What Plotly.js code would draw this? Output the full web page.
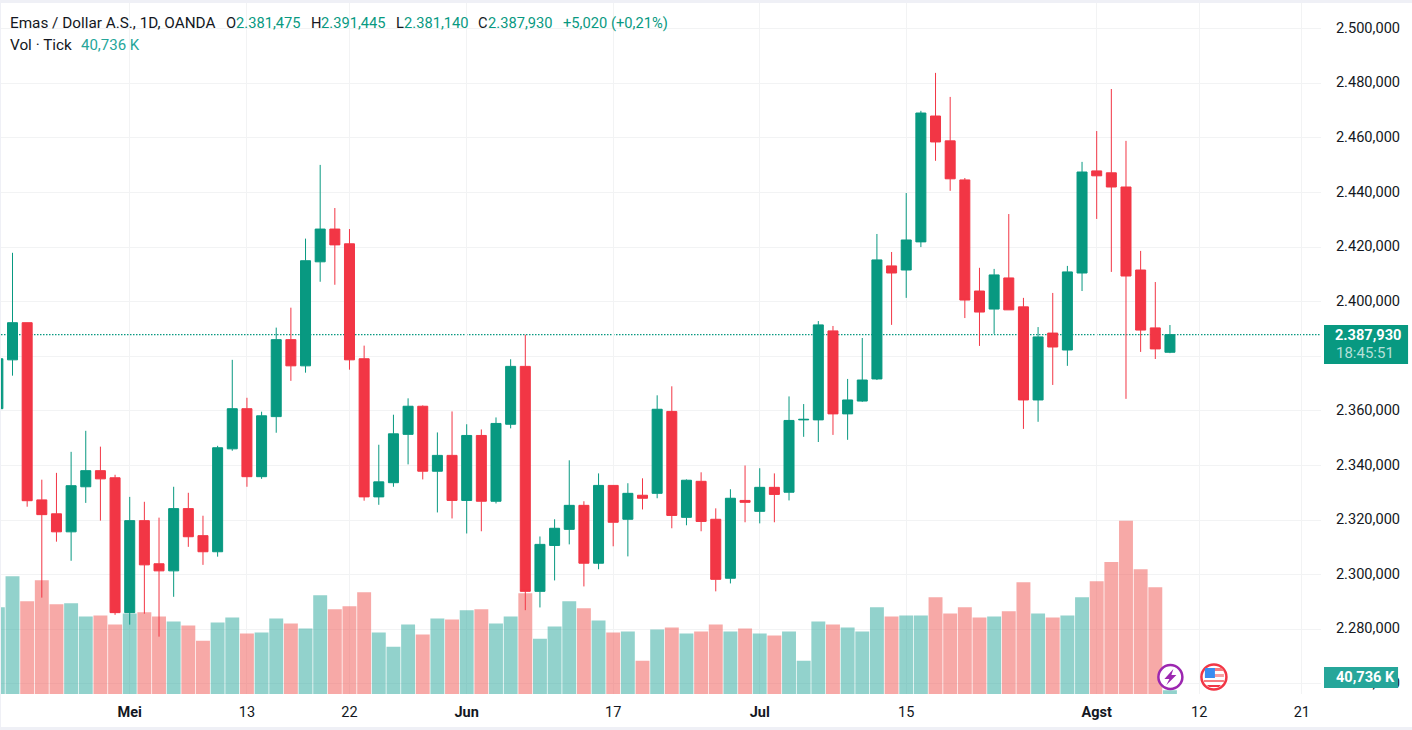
<!DOCTYPE html>
<html>
<head>
<meta charset="utf-8">
<script src="https://cdn.plot.ly/plotly-3.0.1.min.js"></script>
<style>
  html, body { margin: 0; padding: 0; background: #eff0f6; overflow: hidden; }
  #chart { position: absolute; left: 1px; top: 3px; width: 1411px; height: 724px; }
</style>
</head>
<body>
<div id="chart"></div>
<script>
// XAU/USD daily candles with tick volume, Apr - Aug 2024
const sessions = [
  '2024-04-18','2024-04-19','2024-04-22','2024-04-23','2024-04-24','2024-04-25','2024-04-26','2024-04-29','2024-04-30',
  '2024-05-01','2024-05-02','2024-05-03','2024-05-06','2024-05-07','2024-05-08','2024-05-09','2024-05-10','2024-05-13',
  '2024-05-14','2024-05-15','2024-05-16','2024-05-17','2024-05-20','2024-05-21','2024-05-22','2024-05-23','2024-05-24',
  '2024-05-27','2024-05-28','2024-05-29','2024-05-30','2024-05-31','2024-06-03','2024-06-04','2024-06-05','2024-06-06',
  '2024-06-07','2024-06-10','2024-06-11','2024-06-12','2024-06-13','2024-06-14','2024-06-17','2024-06-18','2024-06-19',
  '2024-06-20','2024-06-21','2024-06-24','2024-06-25','2024-06-26','2024-06-27','2024-06-28','2024-07-01','2024-07-02',
  '2024-07-03','2024-07-04','2024-07-05','2024-07-08','2024-07-09','2024-07-10','2024-07-11','2024-07-12','2024-07-15',
  '2024-07-16','2024-07-17','2024-07-18','2024-07-19','2024-07-22','2024-07-23','2024-07-24','2024-07-25','2024-07-26',
  '2024-07-29','2024-07-30','2024-07-31','2024-08-01','2024-08-02','2024-08-05','2024-08-06','2024-08-07','2024-08-08',
  '2024-08-09','2024-08-12','2024-08-13','2024-08-14','2024-08-15','2024-08-16','2024-08-19','2024-08-20','2024-08-21',
  '2024-08-22','2024-08-23'
];
const candleDates = sessions.slice(0, 81);

const opens = [
  2360.8,2378.7,2392.3,2327.4,2322.3,2315.7,2332.2,2338.1,2335.5,2286.1,2319.8,2304.0,2301.4,2324.2,2314.3,2308.4,2346.1,
  2360.8,2335.9,2357.9,2386.1,2376.5,2414.6,2426.6,2421.2,2379.1,2328.5,2333.7,2351.4,2361.7,2337.9,2343.7,2327.2,2351.0,
  2326.9,2355.1,2376.3,2293.9,2310.7,2316.6,2325.4,2304.2,2332.7,2320.3,2329.1,2329.8,2359.8,2321.0,2334.2,2320.3,2298.7,
  2327.2,2323.2,2332.0,2330.2,2356.7,2356.7,2389.3,2358.9,2363.6,2371.7,2413.1,2411.6,2421.9,2468.0,2458.9,2444.6,2403.9,
  2397.3,2408.7,2398.1,2364.0,2388.5,2382.3,2410.5,2447.9,2447.2,2442.0,2411.6,2390.4,2381.475
];
const highs = [
  2381.0,2417.9,2392.3,2334.8,2337.3,2345.0,2352.7,2346.9,2336.6,2328.5,2326.7,2320.9,2332.2,2330.0,2321.6,2347.2,2378.7,
  2364.8,2359.7,2390.5,2397.8,2423.1,2450.1,2434.3,2426.6,2383.9,2347.6,2358.6,2364.6,2362.0,2352.1,2359.8,2355.1,2353.2,
  2357.6,2378.9,2387.9,2314.0,2320.3,2341.9,2326.9,2337.1,2332.7,2333.5,2335.3,2365.7,2369.0,2334.9,2337.5,2324.3,2331.3,
  2340.0,2339.0,2337.1,2365.3,2362.5,2392.9,2391.1,2371.7,2386.7,2424.8,2418.2,2439.8,2469.9,2483.8,2475.0,2445.3,2412.4,
  2412.0,2432.1,2401.4,2390.7,2403.2,2413.1,2451.2,2462.5,2477.9,2458.9,2418.6,2407.2,2391.445
];
const lows = [
  2358.0,2372.9,2324.9,2291.6,2312.1,2305.1,2326.3,2319.8,2285.3,2281.7,2285.7,2277.3,2291.9,2310.2,2303.6,2306.6,2345.4,
  2332.2,2335.1,2352.0,2371.0,2374.0,2407.3,2406.2,2375.1,2327.1,2325.6,2332.2,2340.4,2334.9,2322.8,2320.6,2315.1,2315.9,
  2326.1,2353.6,2287.0,2288.0,2297.9,2311.1,2295.7,2302.0,2310.4,2306.7,2323.9,2328.0,2317.0,2318.1,2315.9,2293.9,2296.8,
  2319.2,2318.8,2319.2,2327.2,2350.5,2348.6,2351.2,2349.4,2363.3,2371.3,2391.5,2401.4,2420.0,2451.6,2440.6,2394.0,2383.8,
  2388.2,2397.0,2353.4,2356.0,2369.5,2376.5,2403.9,2430.3,2410.9,2364.4,2381.6,2379.0,2381.14
];
const closes = [
  2379.1,2392.3,2327.1,2322.0,2315.7,2332.6,2338.1,2335.1,2286.1,2319.8,2303.6,2301.4,2324.2,2313.9,2308.4,2346.5,2360.8,
  2335.9,2358.2,2386.1,2376.5,2415.0,2426.6,2420.8,2378.7,2328.5,2334.0,2351.6,2361.7,2337.9,2343.7,2327.2,2351.0,2326.9,
  2355.4,2376.3,2293.9,2311.1,2317.0,2325.4,2304.2,2332.7,2319.2,2329.8,2328.0,2360.6,2321.7,2334.6,2319.5,2298.3,2328.0,
  2326.5,2332.0,2329.4,2356.5,2356.9,2391.5,2358.9,2364.0,2371.3,2415.3,2410.5,2422.6,2469.1,2458.5,2445.0,2400.6,2396.2,
  2409.8,2397.0,2364.0,2387.1,2383.4,2410.9,2447.5,2446.1,2442.0,2409.4,2389.6,2382.7,2387.93
];
// tick volume in K, bars sit on a cut off scale like the source chart
const volumes = [
  123.4,154.5,129.4,150.5,126.4,127.4,114.3,115.3,106.3,117.3,118.4,114.3,109.3,105.3,90.2,108.3,113.3,97.3,98.3,112.3,107.3,
  102.3,135.4,121.4,124.4,138.4,98.3,84.2,106.3,96.3,112.3,111.3,120.4,121.4,107.3,114.3,137.4,92.2,104.3,129.4,122.4,110.3,
  98.3,99.3,70.1,101.3,103.3,97.3,99.3,106.3,99.3,102.3,97.3,95.3,99.3,70.1,109.3,106.3,103.3,99.3,123.4,114.3,115.3,115.3,
  133.4,117.3,123.4,113.3,114.3,119.4,148.5,117.3,113.3,115.3,133.4,149.5,168.6,209.7,161.5,143.5,40.736
];

const xTickDates = ['2024-05-01','2024-05-13','2024-05-22','2024-06-03','2024-06-17','2024-07-01','2024-07-15','2024-08-01','2024-08-12','2024-08-21'];
const xTickLabels = ['<b>Mei</b>','13','22','<b>Jun</b>','17','<b>Jul</b>','15','<b>Agst</b>','12','21'];
const priceTicks = [2260,2280,2300,2320,2340,2360,2380,2400,2420,2440,2460,2480,2500];

const GREEN = '#089981';
const RED = '#f23645';
const TEAL = '#26a69a';
const INK = '#131722';
const FONT = 'Roboto, sans-serif';

// page pixels to paper fractions, the plot runs from 1..1320 and 3..694 on the page
const paperX = (px) => (px - 1) / 1319;
const paperY = (py) => 1 - (py - 3) / 691;

// annotations carry a couple of px of padding, so pull the anchor back
function label(text, px, py, color, size) {
    return {
        text: text, xref: 'paper', yref: 'paper', x: paperX(px - 2), y: paperY(py),
        xanchor: 'left', yanchor: 'middle', showarrow: false,
        font: { family: FONT, size: size || 14.7, color: color }
    };
}

const headerLabels = [
    label('Emas / Dollar A.S., 1D, OANDA', 10, 23, INK, 15.3),
    label('O', 226, 23, INK), label('2.381,475', 236, 23, GREEN),
    label('H', 311, 23, INK), label('2.391,445', 321, 23, GREEN),
    label('L', 396, 23, INK), label('2.381,140', 404, 23, GREEN),
    label('C', 478, 23, INK), label('2.387,930', 488, 23, GREEN),
    label('+5,020 (+0,21%)', 563, 23, GREEN),
    label('Vol · Tick', 10, 45, INK, 15.3),
    label('40,736 K', 81, 45, TEAL, 15)
];

const badgeLabels = [
    label('<b>2.387,930</b>', 1334, 335, '#ffffff', 14.6),
    label('18:45:51', 1335, 353, '#b5e0d9', 15),
    label('<b>40,736 K</b>', 1335, 677, '#ffffff', 14.6)
];

function badge(px0, py0, px1, py1, color) {
    return {
        type: 'rect', xref: 'paper', yref: 'paper',
        x0: paperX(px0), x1: paperX(px1), y0: paperY(py0), y1: paperY(py1),
        fillcolor: color, line: { width: 0 }
    };
}

// little event markers at the bottom of the pane, pixel sized around an anchor, y up
function icon(path, cx, cy, fill) {
    return {
        type: 'path', path: path, xref: 'paper', yref: 'paper',
        xsizemode: 'pixel', ysizemode: 'pixel', xanchor: paperX(cx), yanchor: paperY(cy),
        fillcolor: fill, line: { width: 0 }
    };
}
function ring(cx, cy, radius, stroke, width) {
    return {
        type: 'circle', xref: 'paper', yref: 'paper',
        xsizemode: 'pixel', ysizemode: 'pixel', xanchor: paperX(cx), yanchor: paperY(cy),
        x0: -radius, x1: radius, y0: -radius, y1: radius,
        fillcolor: '#ffffff', line: { color: stroke, width: width }
    };
}
const iconShapes = [
    ring(1169.5, 677, 12, '#9c27b0', 2.5),
    icon('M3,8 L-6,-2 L-1,-2 L-4,-8 L6,2 L1,2 Z', 1169.5, 677, '#9c27b0'),
    ring(1213, 677, 12.5, RED, 2.5),
    icon('M-9,3 L10,3 L10,0 L-9,0 Z', 1213, 677, '#f9a0a3'),
    icon('M-7,9 L8,9 L10,6 L-9,6 Z', 1213, 677, '#f77c80'),
    icon('M-10,-3 L10,-3 L10,-5 L-10,-5 Z', 1213, 677, '#f77c80'),
    icon('M-7,-8 L7,-8 L5,-10 L-5,-10 Z', 1213, 677, RED),
    icon('M-9,9 L1,9 L1,-1 L-9,-1 Z', 1213, 677, '#3a8cf0')
];

const volumeTrace = {
    type: 'bar',
    x: candleDates,
    y: volumes,
    xaxis: 'x',
    yaxis: 'y',
    marker: {
        color: closes.map((c, i) => c >= opens[i] ? 'rgba(38,166,154,0.5)' : 'rgba(239,83,80,0.5)'),
        line: { width: 0 }
    },
    hoverinfo: 'skip'
};

const candleTrace = {
    type: 'candlestick',
    x: candleDates,
    open: opens,
    high: highs,
    low: lows,
    close: closes,
    xaxis: 'x',
    yaxis: 'y2',
    whiskerwidth: 0,
    increasing: { line: { color: GREEN, width: 1 }, fillcolor: GREEN },
    decreasing: { line: { color: RED, width: 1 }, fillcolor: RED },
    hoverinfo: 'skip'
};

const layout = {
    width: 1411,
    height: 724,
    margin: { l: 0, r: 91, t: 0, b: 33, pad: 0 },
    paper_bgcolor: '#ffffff',
    plot_bgcolor: '#ffffff',
    separators: ',.',
    showlegend: false,
    bargap: 0.05,
    boxgap: 0.317,
    boxgroupgap: 0,
    font: { family: FONT, size: 13, color: INK },
    xaxis: {
        type: 'category',
        categoryorder: 'array',
        categoryarray: sessions,
        range: [0.2145, 90.31],
        tickmode: 'array',
        tickvals: xTickDates,
        ticktext: xTickLabels,
        tickfont: { family: FONT, size: 14.5, color: INK },
        ticks: 'outside',
        ticklen: 5,
        tickcolor: 'rgba(0,0,0,0)',
        showgrid: true,
        gridcolor: '#f2f3f4',
        gridwidth: 1,
        zeroline: false,
        showline: false,
        rangeslider: { visible: false },
        fixedrange: true
    },
    // volume sits on the base axis so the candles get drawn over it
    yaxis: {
        range: [37, 726],
        visible: false,
        showgrid: false,
        fixedrange: true
    },
    yaxis2: {
        overlaying: 'y',
        side: 'right',
        range: [2256.3, 2509.4],
        tickmode: 'array',
        tickvals: priceTicks,
        tickformat: ',.3f',
        tickfont: { family: FONT, size: 14.6, color: INK },
        ticklabelshift: -1,
        ticks: 'outside',
        ticklen: 11,
        tickcolor: 'rgba(0,0,0,0)',
        showgrid: true,
        gridcolor: '#f2f3f4',
        gridwidth: 1,
        zeroline: false,
        showline: false,
        fixedrange: true
    },
    shapes: [{
        type: 'line',
        xref: 'paper', yref: 'y2',
        x0: 0, x1: 1,
        y0: closes[closes.length - 1], y1: closes[closes.length - 1],
        layer: 'below',
        line: { color: GREEN, width: 1.4, dash: '1.5px,1.5px' }
    },
    badge(1323, 325, 1407, 364, GREEN),
    badge(1323, 667, 1397, 688, TEAL)].concat(iconShapes),
    annotations: headerLabels.concat(badgeLabels)
};

Plotly.newPlot('chart', [volumeTrace, candleTrace], layout, { displayModeBar: false, staticPlot: true });
</script>
</body>
</html>
